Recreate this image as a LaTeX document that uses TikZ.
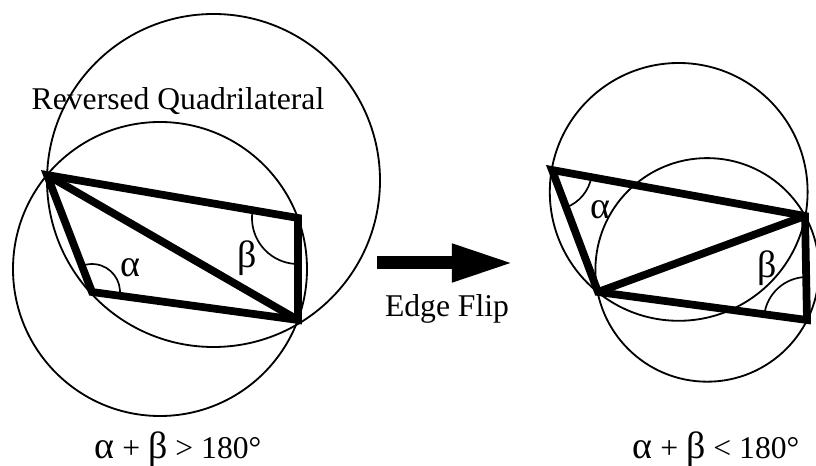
\documentclass[tikz,border=0pt]{standalone}
\usepackage{fontspec}
\setmainfont{Liberation Serif}
\usetikzlibrary{arrows.meta, angles}
\newcommand{\gk}[1]{{\fontsize{27}{30}\selectfont #1}}

\begin{document}
\begin{tikzpicture}[x=0.025cm, y=0.025cm,
    edge/.style={line width=5.5pt},
    ring/.style={line width=1.3pt},
    angmark/.style={draw, line width=1.2pt},
    lbl/.style={font=\fontsize{22.5}{26}\selectfont, inner sep=0pt}]
    \useasboundingbox (0,0) rectangle (816,466);
    \clip (0,0) rectangle (816,466);

    % Reversed quadrilateral (left)
    \coordinate (A) at (47,291);
    \coordinate (B) at (92,174);
    \coordinate (C) at (298,248);
    \coordinate (D) at (298,146);
    \draw[ring] (213.5,285.5) circle[radius=166.5];
    \draw[ring] (160,197) circle[radius=147];
    \draw[edge] (A) -- (C) -- (D) -- (B) -- cycle;
    \draw[edge] (A) -- (D);
    \pic[angmark, angle radius=0.7cm] {angle = D--B--A};
    \pic[angmark, angle radius=1.15cm] {angle = A--C--D};
    \node[lbl] (alphaL) at (130,198) {\gk{α}};
    \node[lbl] (betaL) at (247,208) {\gk{β}};
    \node[lbl, anchor=base] (titleL) at (178,356) {Reversed Quadrilateral};
    \node[lbl, anchor=base] (sumL) at (178,7) {\gk{α} + \gk{β} > 180°};

    % Edge flip arrow
    \coordinate (flipS) at (377,203);
    \coordinate (flipE) at (514,203);
    \draw[line width=0.325cm, -{Triangle[length=1.55cm, width=0.875cm]}] (flipS) -- (flipE);
    \node[lbl, anchor=base] (flipL) at (447,149) {Edge Flip};

    % Flipped quadrilateral (right)
    \coordinate (P) at (552,296);
    \coordinate (Q) at (598,174);
    \coordinate (R) at (805,250);
    \coordinate (S) at (807,146);
    \draw[ring] (678.7,274.1) circle[radius=128.9];
    \draw[ring] (707.2,196.1) circle[radius=111.8];
    \draw[edge] (P) -- (R) -- (S) -- (Q) -- cycle;
    \draw[edge] (Q) -- (R);
    \pic[angmark, angle radius=1cm] {angle = Q--P--R};
    \pic[angmark, angle radius=1.075cm] {angle = R--S--Q};
    \node[lbl] (alphaR) at (600,256) {\gk{α}};
    \node[lbl] (betaR) at (767,198) {\gk{β}};
    \node[lbl, anchor=base] (sumR) at (716,7) {\gk{α} + \gk{β} < 180°};
\end{tikzpicture}
\end{document}
